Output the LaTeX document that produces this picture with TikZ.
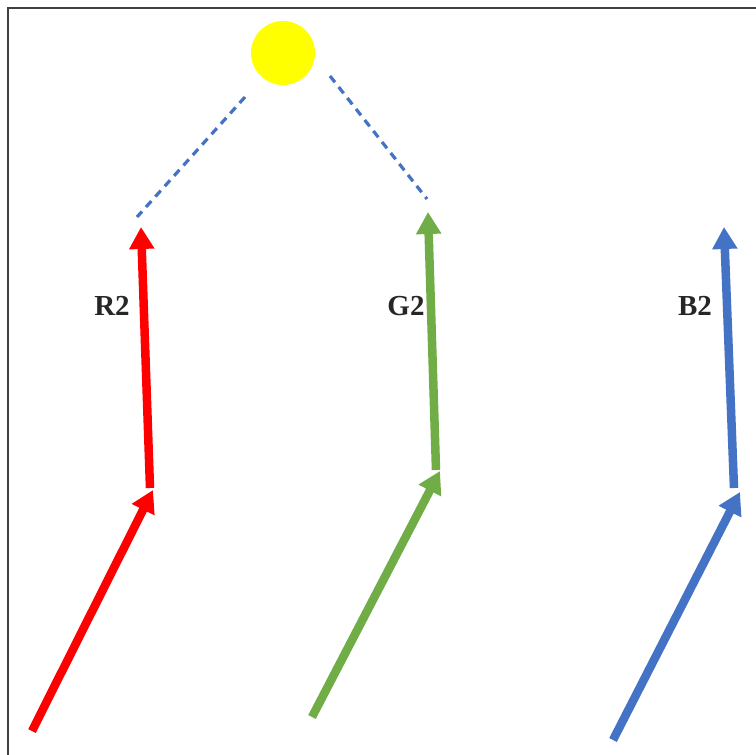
\documentclass[tikz,border=0pt]{standalone}
\usepackage{fontspec}
\setmainfont{Liberation Serif}
\usetikzlibrary{arrows.meta}
\definecolor{cred}{HTML}{FF0000}
\definecolor{cgreen}{HTML}{70AD47}
\definecolor{cblue}{HTML}{4472C4}
\definecolor{cyel}{HTML}{FFFF00}
\definecolor{frame}{HTML}{404040}
\begin{document}
\begin{tikzpicture}[x=1pt,y=-1pt,
  ray/.style={line width=8.5pt,-{Triangle[width=24pt,length=22pt]}},
  dashray/.style={cblue,line width=3.2pt,dash pattern=on 8pt off 6pt},
  lbl/.style={font=\fontsize{29}{31}\selectfont\bfseries,text=black!85,inner sep=0pt}]
\useasboundingbox (0,0) rectangle (756,755);
\fill[white] (0,0) rectangle (756,755);
\coordinate (fbl) at (8,756);
\coordinate (ftl) at (8,8);
\coordinate (ftr) at (757,8);
\draw[frame,line width=1.8pt] (fbl) -- (ftl) -- (ftr);
% sun
\node[circle,fill=cyel,minimum size=64pt,inner sep=0pt] (sun) at (283,53) {};
% dashed lines
\coordinate (dl1) at (245,97);
\coordinate (dl2) at (137,217);
\coordinate (dr1) at (330,76);
\coordinate (dr2) at (427,199);
\draw[dashray] (dl1) -- (dl2);
\draw[dashray] (dr1) -- (dr2);
% red
\coordinate (r0) at (32,731);
\coordinate (r1) at (153,490);
\coordinate (r2) at (150,488);
\coordinate (r3) at (141,227);
\draw[ray,cred] (r0) -- (r1);
\draw[ray,cred] (r2) -- (r3);
% green
\coordinate (g0) at (312,717);
\coordinate (g1) at (440,471);
\coordinate (g2) at (436,470);
\coordinate (g3) at (428,212);
\draw[ray,cgreen] (g0) -- (g1);
\draw[ray,cgreen] (g2) -- (g3);
% blue
\coordinate (b0) at (613,740);
\coordinate (b1) at (740,492);
\coordinate (b2) at (734,488);
\coordinate (b3) at (724,227);
\draw[ray,cblue] (b0) -- (b1);
\draw[ray,cblue] (b2) -- (b3);
% labels
\node[lbl] (R2) at (112,306) {R2};
\node[lbl] (G2) at (406,306) {G2};
\node[lbl] (B2) at (695,306) {B2};
\end{tikzpicture}
\end{document}
